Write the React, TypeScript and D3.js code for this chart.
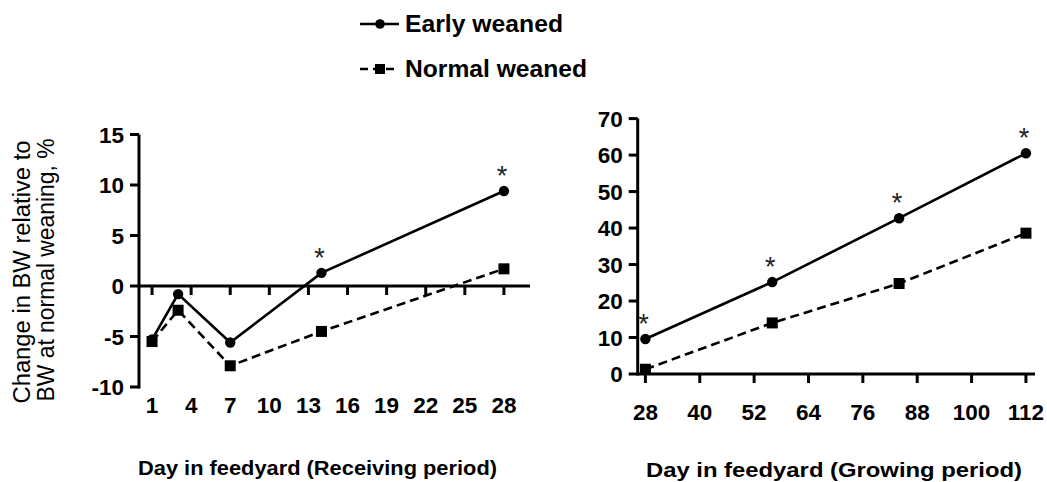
import * as d3 from "d3";
import React from "react";

// receiving period (left panel)
const receivingDays = [1, 3, 7, 14, 28];
const receivingEarly = [-5.3, -0.8, -5.6, 1.3, 9.4];
const receivingNormal = [-5.5, -2.4, -7.9, -4.5, 1.7];
const receivingStar = [false, false, false, true, true];
const receivingXTicks = [1, 4, 7, 10, 13, 16, 19, 22, 25, 28];
const receivingYTicks = [-10, -5, 0, 5, 10, 15];

// growing period (right panel)
const growingDays = [28, 56, 84, 112];
const growingEarly = [9.6, 25.2, 42.7, 60.5];
const growingNormal = [1.3, 14.0, 24.8, 38.6];
const growingStar = [true, true, true, true];
const growingXTicks = [28, 40, 52, 64, 76, 88, 100, 112];
const growingYTicks = [0, 10, 20, 30, 40, 50, 60, 70];

const seriesNames = ["Early weaned", "Normal weaned"];

const FONT = "'Liberation Sans', Arial, Helvetica, sans-serif";

const Panel = ({ x, y, days, early, normal, star, xTicks, yTicks, xAxisY, tickLabelY }) => {
  const line = d3
    .line()
    .x((d) => x(d[0]))
    .y((d) => y(d[1]));
  const e = days.map((d, i) => [d, early[i]]);
  const n = days.map((d, i) => [d, normal[i]]);
  const [x0, x1] = x.range();
  const [yb, yt] = y.range();
  const ay = y(xAxisY);
  return (
    <g>
      {/* y axis */}
      <line x1={x0} x2={x0} y1={yb + 1.5} y2={yt} stroke="#000" strokeWidth={3} />
      {yTicks.map((t) => (
        <g key={"y" + t}>
          <line x1={x0 - 9} x2={x0} y1={y(t)} y2={y(t)} stroke="#000" strokeWidth={3} />
          <text
            x={x0 - 15}
            y={y(t) + 8}
            textAnchor="end"
            fontFamily={FONT}
            fontWeight="bold"
            fontSize={22.5}
          >
            {t}
          </text>
        </g>
      ))}
      {/* x axis */}
      <line x1={x0} x2={x1} y1={ay} y2={ay} stroke="#000" strokeWidth={3} />
      {xTicks.map((t) => (
        <g key={"x" + t}>
          <line x1={x(t)} x2={x(t)} y1={ay} y2={ay + 9} stroke="#000" strokeWidth={3} />
          <text
            x={x(t)}
            y={tickLabelY}
            textAnchor="middle"
            fontFamily={FONT}
            fontWeight="bold"
            fontSize={22.5}
          >
            {t}
          </text>
        </g>
      ))}
      <path d={line(n)} fill="none" stroke="#000" strokeWidth={2.6} strokeDasharray="9,5" />
      <path d={line(e)} fill="none" stroke="#000" strokeWidth={2.6} />
      {e.map((d, i) => (
        <circle key={"c" + i} cx={x(d[0])} cy={y(d[1])} r={5.2} fill="#000" />
      ))}
      {n.map((d, i) => (
        <rect key={"s" + i} x={x(d[0]) - 5.5} y={y(d[1]) - 5.5} width={11} height={11} fill="#000" />
      ))}
      {e.map((d, i) =>
        star[i] ? (
          <text
            key={"a" + i}
            x={x(d[0]) - 2}
            y={y(d[1]) - 6}
            textAnchor="middle"
            fontFamily={FONT}
            fontSize={27}
            fill="#222"
          >
            *
          </text>
        ) : null
      )}
    </g>
  );
};

export default function App() {
  const xL = d3.scaleLinear([0, 30], [139, 530]);
  const yL = d3.scaleLinear([-10, 15], [387, 134.5]);
  const xR = d3.scaleLinear([26.3, 114], [637.7, 1035]);
  const yR = d3.scaleLinear([0, 70], [374, 118.6]);
  return (
    <svg
      width={1047}
      height={482}
      style={{ position: "absolute", left: 0, top: 0, background: "#fff" }}
    >
      <rect width={1047} height={482} fill="#fff" />
      {/* legend */}
      <g>
        <line x1={360} x2={399} y1={24} y2={24} stroke="#000" strokeWidth={2.6} />
        <circle cx={380} cy={24} r={4.8} fill="#000" />
        <text x={405} y={32} fontFamily={FONT} fontWeight="bold" fontSize={23} textLength={158} lengthAdjust="spacingAndGlyphs">
          {seriesNames[0]}
        </text>
        <line x1={360} x2={399} y1={69} y2={69} stroke="#000" strokeWidth={2.6} strokeDasharray="8,5" />
        <rect x={375} y={64} width={10} height={10} fill="#000" />
        <text x={405} y={76.5} fontFamily={FONT} fontWeight="bold" fontSize={23} textLength={182} lengthAdjust="spacingAndGlyphs">
          {seriesNames[1]}
        </text>
      </g>
      <Panel
        x={xL}
        y={yL}
        days={receivingDays}
        early={receivingEarly}
        normal={receivingNormal}
        star={receivingStar}
        xTicks={receivingXTicks}
        yTicks={receivingYTicks}
        xAxisY={0}
        tickLabelY={413}
      />
      <Panel
        x={xR}
        y={yR}
        days={growingDays}
        early={growingEarly}
        normal={growingNormal}
        star={growingStar}
        xTicks={growingXTicks}
        yTicks={growingYTicks}
        xAxisY={0}
        tickLabelY={420}
      />
      {/* axis titles */}
      <text
        transform="translate(30,272) rotate(-90)"
        textAnchor="middle"
        fontFamily={FONT}
        fontSize={23}
        textLength={263}
        lengthAdjust="spacingAndGlyphs"
      >
        Change in BW relative to
      </text>
      <text
        transform="translate(54,270) rotate(-90)"
        textAnchor="middle"
        fontFamily={FONT}
        fontSize={23}
        textLength={263}
        lengthAdjust="spacingAndGlyphs"
      >
        BW at normal weaning, %
      </text>
      <text x={138} y={475} fontFamily={FONT} fontWeight="bold" fontSize={19.5} textLength={359} lengthAdjust="spacingAndGlyphs">
        Day in feedyard (Receiving period)
      </text>
      <text x={646} y={477} fontFamily={FONT} fontWeight="bold" fontSize={20} textLength={376} lengthAdjust="spacingAndGlyphs">
        Day in feedyard (Growing period)
      </text>
    </svg>
  );
}
